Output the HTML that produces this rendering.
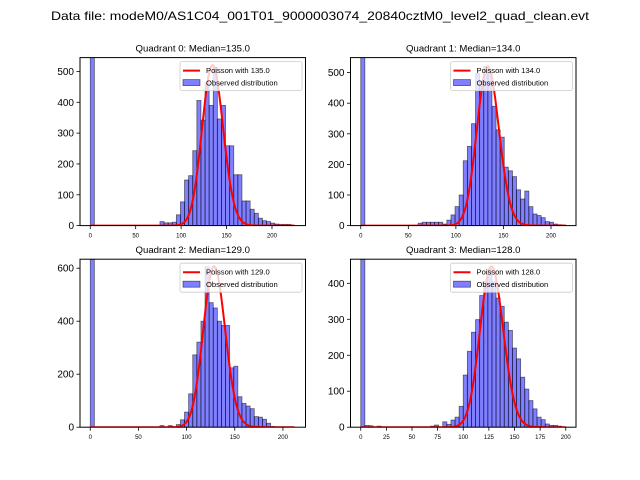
<!DOCTYPE html>
<html><head><meta charset="utf-8">
<style>
html,body{margin:0;padding:0;background:#fff;}
svg{display:block;font-family:"Liberation Sans","DejaVu Sans",sans-serif;}
</style></head>
<body>
<svg id="fig" width="640" height="480" viewBox="0 0 640 480">
<rect x="0" y="0" width="640" height="480" fill="#fff"/>
<text x="320" y="20" font-size="12" text-anchor="middle" textLength="538" lengthAdjust="spacingAndGlyphs">Data file: modeM0/AS1C04_001T01_9000003074_20840cztM0_level2_quad_clean.evt</text>
</svg>
<script>
// Quadrant 0 data
const q0Start = 17;
const q0Counts = [13,9,9,11,35,77,148,162,243,406,342,463,390,512,346,390,259,259,165,165,80,80,53,40,24,16,13,8,5,4,4,4];
// Quadrant 1 data
const q1Start = 14;
const q1Counts = [8,11,11,11,11,11,5,18,35,62,100,212,259,333,497,472,520,499,390,313,289,191,179,160,117,87,113,62,38,33,26,13,11,5,3,2];
// Quadrant 2 data
const q2Start = 17;
const q2Counts = [6,0,6,0,10,28,57,126,273,321,400,605,470,450,400,384,384,224,230,115,90,80,70,40,38,30,15,3];
// Quadrant 3 data
const q3Start = 17;
const q3Counts = [3,6,0,15,8,20,28,58,145,211,264,299,366,405,440,405,359,336,292,269,220,190,139,106,74,51,28,21,9,5,5,3];
const q3Low = [0,5,4,0,3];
const zeroBin = [2500,2500,2500,2500];
const medians = [135.0,134.0,129.0,128.0];
const curvePeaks = [520,520,607,447];
const dataMax = [225.6,215.5,212.8,200];
const yMax = [545,549,634,467];
const yTicks = [[0,100,200,300,400,500],[0,100,200,300,400,500],[0,200,400,600],[0,100,200,300,400]];
const xTicks = [[0,50,100,150,200],[0,50,100,150,200],[0,50,100,150,200],[0,25,50,75,100,125,150,175,200]];

const NS="http://www.w3.org/2000/svg";
const fig=document.getElementById('fig');
function mk(tag,attrs,parent){const e=document.createElementNS(NS,tag);for(const k in attrs)e.setAttribute(k,attrs[k]);(parent||fig).appendChild(e);return e;}
function lgamma(n){ if(n<1) return 0; let x=n+1; return (x-0.5)*Math.log(x)-x+0.5*Math.log(2*Math.PI)+1/(12*x)-1/(360*x*x*x);}
function logpmf(k,l){return k*Math.log(l)-l-lgamma(k);}

const boxes=[[80,57.6],[350.5,57.6],[80,259.2],[350.5,259.2]];
const W=225.5,H=168;
const allCounts=[q0Counts,q1Counts,q2Counts,q3Counts];
const starts=[q0Start,q1Start,q2Start,q3Start];

for(let q=0;q<4;q++){
  const [L,T]=boxes[q];
  const B=dataMax[q], bw=B/50;
  const xmin=-0.05*B, xmax=1.05*B;
  const X=v=>L+(v-xmin)/(xmax-xmin)*W;
  const Y=v=>T+H-v/yMax[q]*H;
  const g=mk('g',{});
  
  
  const cid='clip'+q;
  const cp=mk('clipPath',{id:cid},g);
  mk('rect',{x:L,y:T,width:W,height:H},cp);
  const bars=mk('g',{'clip-path':'url(#'+cid+')'},g);
  const counts=new Array(50).fill(0);
  counts[0]=zeroBin[q];
  allCounts[q].forEach((c,i)=>{if(starts[q]+i<50)counts[starts[q]+i]=c;});
  if(q===3) q3Low.forEach((c,i)=>{if(i>0)counts[i]=c;});
  counts.forEach((c,i)=>{
    if(c<=0) return;
    const x0=X(i*bw),x1=X((i+1)*bw);
    const r=mk('rect',{x:x0,y:Y(c),width:x1-x0,height:Y(0)-Y(c),fill:'rgba(0,0,255,0.5)',stroke:'rgba(0,0,0,0.55)','stroke-width':0.8},bars);
    
    
  });
  const lam=medians[q];
  const mode=Math.floor(lam);
  const A=curvePeaks[q]/Math.exp(logpmf(mode,lam));
  let d='';
  for(let k=0;k<=Math.floor(B);k++){
    const v=A*Math.exp(logpmf(k,lam));
    d+=(k?'L':'M')+X(k).toFixed(2)+','+Y(v).toFixed(2);
  }
  const pl=mk('path',{d:d,fill:'none',stroke:'red','stroke-width':2},bars);
  
  
  mk('rect',{x:L,y:T,width:W,height:H,fill:'none',stroke:'#000','stroke-width':1},g);
  yTicks[q].forEach(t=>{
    const y=Y(t);
    mk('line',{x1:L,x2:L-3.5,y1:y,y2:y,stroke:'#000','stroke-width':0.8},g);
    const tx=mk('text',{x:L-6,y:y+3.5,'font-size':10,'text-anchor':'end'},g);
    tx.textContent=t;
    
    
  });
  xTicks[q].forEach(t=>{
    const x=X(t);
    mk('line',{x1:x,x2:x,y1:T+H,y2:T+H+3.5,stroke:'#000','stroke-width':0.8},g);
    const tx=mk('text',{x:x,y:T+H+12,'font-size':6,'text-anchor':'middle'},g);
    tx.textContent=t;
    
    
  });
  const ti=mk('text',{x:L+W/2,y:T-6,'font-size':9.6,'text-anchor':'middle'},g);
  ti.textContent='Quadrant '+q+': Median='+medians[q].toFixed(1);
  
  
  const lg=mk('g',{},g);
  
  
  const lx=L+W-125.5, ly=T+4;
  mk('rect',{x:lx,y:ly,width:122,height:29,rx:2,fill:'rgba(255,255,255,0.8)',stroke:'#ccc','stroke-width':0.8},lg);
  mk('line',{x1:lx+3,x2:lx+20,y1:ly+9,y2:ly+9,stroke:'red','stroke-width':2},lg);
  const t1=mk('text',{x:lx+26,y:ly+11.5,'font-size':7.6},lg);
  t1.textContent='Poisson with '+medians[q].toFixed(1);
  
  
  mk('rect',{x:lx+3,y:ly+18,width:17,height:6,fill:'rgba(0,0,255,0.5)',stroke:'rgba(0,0,0,0.55)','stroke-width':0.8},lg);
  const t2=mk('text',{x:lx+26,y:ly+24,'font-size':7.6},lg);
  t2.textContent='Observed distribution';
  
  
}
</script>
</body></html>
